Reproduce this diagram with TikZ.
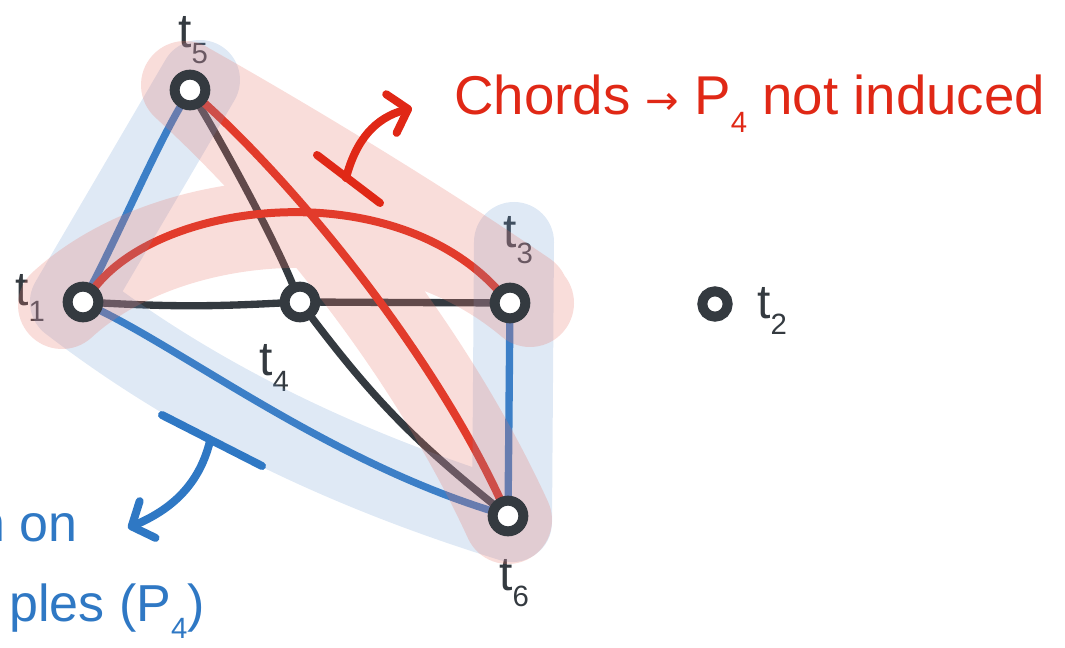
\documentclass[tikz,border=0pt]{standalone}
\usepackage{fontspec}
\setmainfont{Liberation Sans}
\newfontfamily\arrowfont{DejaVu Sans}
\usetikzlibrary{arrows.meta}
\definecolor{redline}{HTML}{E02816}
\definecolor{blueline}{HTML}{2F78C4}
\definecolor{darkline}{HTML}{343A40}
\definecolor{bluebandc}{HTML}{6C9BD2}
\definecolor{pinkbandc}{HTML}{E8766A}
\pgfdeclarelayer{edges}
\pgfdeclarelayer{bands}
\pgfsetlayers{edges,bands,main}
\newcommand{\lsub}[1]{\raisebox{-0.32em}{\fontsize{22}{22}\selectfont #1}}
\newcommand{\tsub}[1]{t\lsub{#1}}
\tikzset{
  vert/.style={circle, draw=darkline, fill=white, line width=7.5pt, minimum size=23pt, inner sep=0pt},
  smallvert/.style={vert, line width=7.5pt, minimum size=19pt},
  edgebase/.style={line width=5.5pt, line cap=round},
  rededge/.style={edgebase, draw=redline, line width=6pt},
  blueedge/.style={edgebase, draw=blueline},
  darkedge/.style={edgebase, draw=darkline},
  lbl/.style={text=darkline, font=\fontsize{36}{36}\selectfont, inner sep=0pt},
  band/.style={line cap=round, line join=round},
  blueband/.style={band, draw=bluebandc, draw opacity=0.22, line width=60pt},
  pinkband/.style={band, draw=pinkbandc, draw opacity=0.25, line width=66pt},
  redmark/.style={draw=redline, line width=6pt, line cap=round, line join=round},
  bluemark/.style={draw=blueline, line width=6pt, line cap=round, line join=round},
  tipstyle/.style={-{Straight Barb[length=13pt, width=30pt, round]}},
  redtext/.style={text=redline, font=\fontsize{41}{41}\selectfont, inner sep=0pt},
  bluetext/.style={text=blueline, font=\fontsize{39}{39}\selectfont, inner sep=0pt}
}
\begin{document}
\begin{tikzpicture}[x=0.75pt, y=-0.75pt]
\useasboundingbox (0,0) rectangle (1065,648);

% vertices
\node[vert] (t5) at (190,90) {};
\node[vert] (t1) at (83,302) {};
\node[vert] (t4) at (300,302) {};
\node[vert] (t3) at (510,303) {};
\node[vert] (t6) at (508,516) {};
\node[smallvert] (t2) at (715,304) {};

\begin{pgfonlayer}{edges}
  % blue path P4
  \draw[blueedge] (t5) .. controls (155,150) and (118,235) .. (t1);
  \draw[blueedge] (t1) .. controls (190,355) and (330,460) .. (t6);
  \draw[blueedge] (t3) -- (t6);
  % dark edges
  \draw[darkedge] (t1) to[bend right=3] (t4);
  \draw[darkedge] (t4) -- (t3);
  \draw[darkedge] (t5) .. controls (220,140) and (270,230) .. (t4);
  \draw[darkedge] (t4) to[bend right=7] (t6);
  % red chords
  \draw[rededge] (t1) .. controls (165,200) and (390,175) .. (t3);
  \draw[rededge] (t5) .. controls (300,190) and (430,350) .. (t6);
  % labels
  \node[lbl] (l5) at (193,40) {\tsub{5}};
  \node[lbl] (l1) at (30,298) {\tsub{1}};
  \node[lbl] (l3) at (518,240) {\tsub{3}};
  \node[lbl] (l4) at (274,368) {\tsub{4}};
  \node[lbl] (l6) at (514,583) {\tsub{6}};
  \node[lbl] (l2) at (772,311) {\tsub{2}};
\end{pgfonlayer}

\begin{pgfonlayer}{bands}
  \draw[blueband] (200,80) -- (70,302) .. controls (200,402) and (350,472) .. (512,522) -- (514,242);
  \draw[pinkband]
    (62,305) .. controls (165,210) and (390,185) .. (530,303)
    (185,85) .. controls (300,190) and (430,350) .. (508,520)
    (190,88) .. controls (300,150) and (430,230) .. (525,295);
\end{pgfonlayer}

% red annotation
\coordinate (rb1) at (317,155);
\coordinate (rb2) at (380,203);
\coordinate (rbm) at (346,178);
\coordinate (rtip) at (412,108);
\draw[redmark] (rb1) -- (rb2);
\draw[redmark, tipstyle] (rbm) .. controls (356,140) and (375,118) .. (rtip);
\node[redtext, anchor=base west] (chords) at (454,115)
  {Chords {\arrowfont\fontsize{30}{30}\selectfont →} P\lsub{4} not induced};

% blue annotation
\coordinate (bb1) at (162,415);
\coordinate (bb2) at (262,466);
\coordinate (bbm) at (210,441);
\coordinate (btip) at (128,528);
\draw[bluemark] (bb1) -- (bb2);
\draw[bluemark, tipstyle] (bbm) .. controls (198,490) and (165,512) .. (btip);
\node[bluetext, anchor=base east] (pathon) at (78,542) {n on};
\node[bluetext, anchor=base east] (triples) at (205,622) {ples (P\lsub{4})};
\end{tikzpicture}
\end{document}
